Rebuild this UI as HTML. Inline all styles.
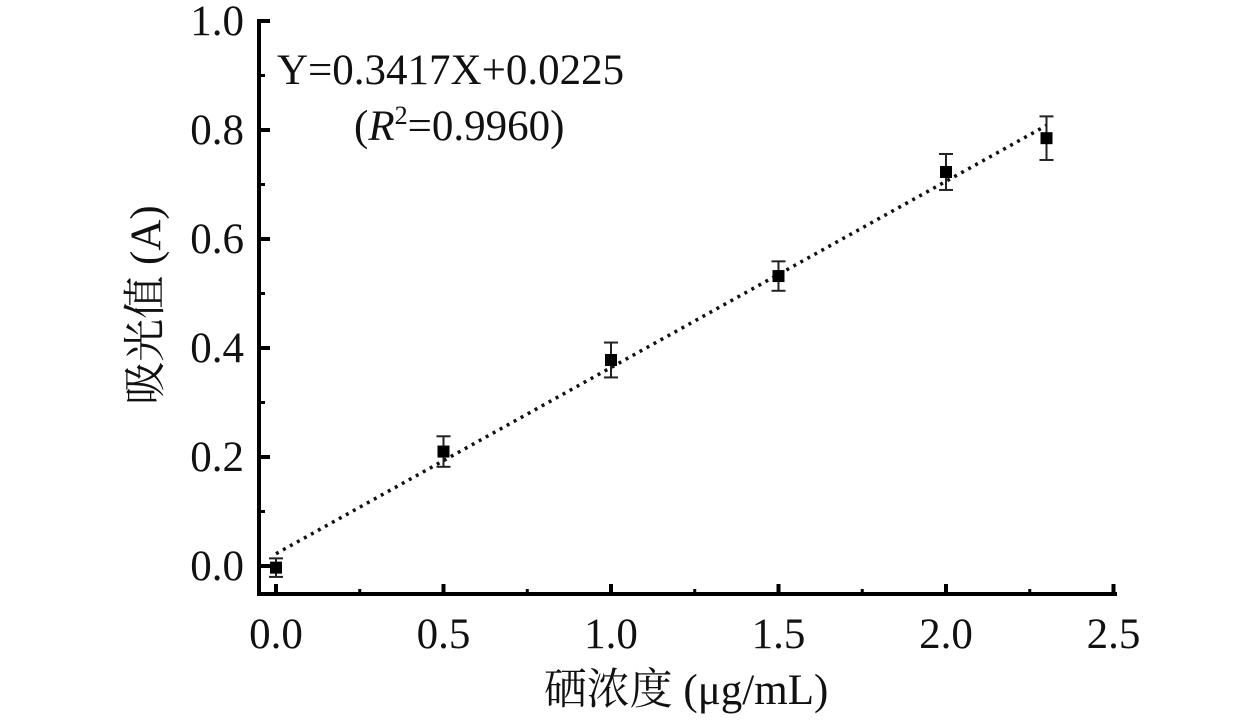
<!DOCTYPE html>
<html><head><meta charset="utf-8"><style>
body{margin:0;background:#fff;}
svg text{font-family:"Liberation Serif","Noto Serif CJK SC",serif;fill:#111;}
</style></head><body>
<svg id="chart" width="1259" height="716" xmlns="http://www.w3.org/2000/svg">
<g id="axes"></g>
<g id="marks"></g>
<text x="277" y="84" font-size="43">Y=0.3417X+0.0225</text>
<text x="354" y="140" font-size="43">(<tspan font-style="italic">R</tspan><tspan font-size="26" dy="-16">2</tspan><tspan dy="16">=0.9960)</tspan></text>
<text x="686" y="704" font-size="43" text-anchor="middle">硒浓度 (μg/mL)</text>
<text transform="translate(160,305) rotate(-90)" font-size="43" text-anchor="middle">吸光值 (A)</text>
</svg>
<script>
const xTicks=[0,0.5,1.0,1.5,2.0,2.5];
const xTickLabels=["0.0","0.5","1.0","1.5","2.0","2.5"];
const yTicks=[0,0.2,0.4,0.6,0.8,1.0];
const yTickLabels=["0.0","0.2","0.4","0.6","0.8","1.0"];
const concentrations=[0,0.5,1.0,1.5,2.0,2.3];
const absorbance=[-0.003,0.21,0.378,0.532,0.723,0.785];
const errors=[0.017,0.028,0.032,0.027,0.033,0.04];
const slope=0.3417, intercept=0.0225;
const NS="http://www.w3.org/2000/svg";
const sx=v=>276+v*335;
const sy=v=>566-v*545;
function mk(tag,attrs,parent){const e=document.createElementNS(NS,tag);for(const k in attrs)e.setAttribute(k,attrs[k]);parent.appendChild(e);return e;}
const axes=document.getElementById('axes'), marks=document.getElementById('marks');
let e=mk('line',{x1:259,y1:19,x2:259,y2:595,stroke:'#000','stroke-width':4},axes);


e=mk('line',{x1:257,y1:594,x2:1117,y2:594,stroke:'#000','stroke-width':4},axes);


xTicks.forEach((t,i)=>{
  let l=mk('line',{x1:sx(t),y1:594,x2:sx(t),y2:584,stroke:'#000','stroke-width':4},axes);
  
  
  if(i<xTicks.length-1){let m=mk('line',{x1:sx(t+0.25),y1:594,x2:sx(t+0.25),y2:589,stroke:'#000','stroke-width':3},axes);
  
  }
  let tx=mk('text',{x:sx(t),y:648,'font-size':43,'text-anchor':'middle'},axes);tx.textContent=xTickLabels[i];
  
  
});
yTicks.forEach((t,i)=>{
  let l=mk('line',{x1:259,y1:sy(t),x2:270,y2:sy(t),stroke:'#000','stroke-width':4},axes);
  
  
  if(i<yTicks.length-1){let m=mk('line',{x1:259,y1:sy(t+0.1),x2:265,y2:sy(t+0.1),stroke:'#000','stroke-width':3},axes);
  
  }
  let tx=mk('text',{x:244,y:sy(t)+14,'font-size':43,'text-anchor':'end'},axes);tx.textContent=yTickLabels[i];
  
  
});
const x0=concentrations[0], x1=concentrations[concentrations.length-1];
e=mk('line',{x1:sx(x0),y1:sy(slope*x0+intercept),x2:sx(x1),y2:sy(slope*x1+intercept),stroke:'#111','stroke-width':3.5,'stroke-dasharray':'3 5'},marks);


concentrations.forEach((c,i)=>{
  const x=sx(c), y=sy(absorbance[i]), t=sy(absorbance[i]+errors[i]), b=sy(absorbance[i]-errors[i]);
  let g=mk('g',{},marks);
  
  
  mk('line',{x1:x,y1:t,x2:x,y2:b,stroke:'#222','stroke-width':2},g);
  mk('line',{x1:x-7,y1:t,x2:x+7,y2:t,stroke:'#222','stroke-width':2},g);
  mk('line',{x1:x-7,y1:b,x2:x+7,y2:b,stroke:'#222','stroke-width':2},g);
  mk('rect',{x:x-6,y:y-6,width:12,height:12,fill:'#000'},g);
});
</script>
</body></html>
